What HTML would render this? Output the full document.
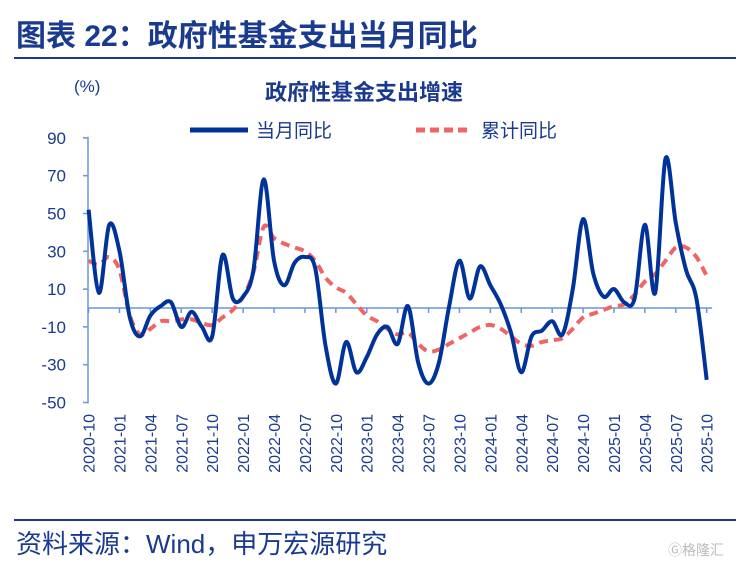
<!DOCTYPE html>
<html><head><meta charset="utf-8"><style>
body{margin:0;background:#fff;width:748px;height:565px;overflow:hidden;font-family:"Liberation Sans","Noto Sans CJK SC",sans-serif}
</style></head><body>
<svg width="748" height="565" xmlns="http://www.w3.org/2000/svg" font-family="'Liberation Sans','Noto Sans CJK SC',sans-serif">
<text x="16" y="46" font-size="30" font-weight="bold" fill="#1a3a8f">图表 22：政府性基金支出当月同比</text>
<line x1="14" y1="58" x2="736" y2="58" stroke="#1a3a8f" stroke-width="2"/>
<text x="364" y="100" font-size="22" font-weight="bold" fill="#1a3a8f" text-anchor="middle">政府性基金支出增速</text>
<text x="74" y="92" font-size="17" fill="#1a3a8f">(%)</text>
<g><line x1="190" y1="130" x2="248" y2="130" stroke="#003399" stroke-width="5"/><text x="256" y="137" font-size="19" fill="#1a3a8f">当月同比</text></g>
<g><line x1="416" y1="130" x2="472" y2="130" stroke="#f06464" stroke-width="5" stroke-dasharray="9,5"/><text x="481" y="137" font-size="19" fill="#1a3a8f">累计同比</text></g>
<g id="axes"></g>
<g id="plot"></g>
<line x1="14" y1="520" x2="736" y2="520" stroke="#1a3a8f" stroke-width="2"/>
<text x="16" y="553" font-size="26" fill="#1a3a8f">资料来源：Wind，申万宏源研究</text>
<text x="668" y="555" font-size="14" fill="#bbb">Ⓖ格隆汇</text>
</svg>
<script>
const yTicks=[90,70,50,30,10,-10,-30,-50];
const startYear=2020,startMonth=10,nMonths=61;
const monthly=[52,8,44,30,-5,-15,-4,1,3,-10,-2,-10,-15,28,5,6,20,68,25,12,24,27,21,-20,-40,-18,-34,-26,-14,-10,-19,1,-29,-40,-29,1,25,5,22,12,2,-13,-34,-15,-12,-7,-14,10,47,18,6,10,3,5,44,8,79,45,20,5,-38];
const cumulative=[25,23,27,20,-4,-14,-11,-7,-7,-6,-6,-8,-9,-5,-1,6,19,43,37,34,32,30,25,16,11,8,2,-4,-7,-11,-14,-13,-19,-23,-22,-19,-16,-13,-10,-9,-11,-15,-19,-20,-18,-17,-16,-11,-5,-3,-1,1,2,7,14,18,25,32,32,27,17];
const NS="http://www.w3.org/2000/svg";
const X0=88.6,X1=706.7,Y0=308,PPU=1.89;
const xs=i=>X0+(X1-X0)*i/(nMonths-1);
const ys=v=>Y0-v*PPU;
const axes=document.getElementById('axes'),plot=document.getElementById('plot');
function mk(tag,attrs,parent){const e=document.createElementNS(NS,tag);for(const k in attrs)e.setAttribute(k,attrs[k]);parent.appendChild(e);return e;}
let ax=mk('line',{x1:88,y1:ys(90)-1,x2:88,y2:ys(-50)+1,stroke:'#6a95dd','stroke-width':1.5},axes);


let zl=mk('line',{x1:88,y1:Y0,x2:712,y2:Y0,stroke:'#6a95dd','stroke-width':1.5},axes);


yTicks.forEach(v=>{
 mk('line',{x1:83,y1:ys(v),x2:88,y2:ys(v),stroke:'#6a95dd','stroke-width':1.5},axes);
 const t=mk('text',{x:66,y:ys(v)+6,'font-size':17,fill:'#1a3a8f','text-anchor':'end'},axes);
 t.textContent=v;
 
 
});
for(let i=0;i<nMonths;i+=3){
 const x=xs(i);
 mk('line',{x1:x,y1:Y0,x2:x,y2:Y0+5,stroke:'#6a95dd','stroke-width':1.5},axes);
 const m=startMonth-1+i,yr=startYear+Math.floor(m/12),mo=m%12+1;
 const t=mk('text',{x:0,y:0,'font-size':16,fill:'#1a3a8f','text-anchor':'end',transform:`translate(${x+6},414) rotate(-90)`},axes);
 t.textContent=yr+'-'+String(mo).padStart(2,'0');
 
 
}
function pathD(vals){
 const p=vals.map((v,i)=>[xs(i),ys(v)]);let d=`M${p[0][0]},${p[0][1]}`;
 for(let i=0;i<p.length-1;i++){const a=p[Math.max(0,i-1)],b=p[i],c=p[i+1],e=p[Math.min(p.length-1,i+2)];
  const c1=[b[0]+(c[0]-a[0])/6,b[1]+(c[1]-a[1])/6],c2=[c[0]-(e[0]-b[0])/6,c[1]-(e[1]-b[1])/6];
  d+=` C${c1[0]},${c1[1]} ${c2[0]},${c2[1]} ${c[0]},${c[1]}`;}
 return d;}
const red=mk('path',{d:pathD(cumulative),fill:'none',stroke:'#f06464','stroke-width':4,'stroke-dasharray':'9,6'},plot);


const blue=mk('path',{d:pathD(monthly),fill:'none',stroke:'#003399','stroke-width':4,'stroke-linejoin':'round'},plot);


</script>
</body></html>
